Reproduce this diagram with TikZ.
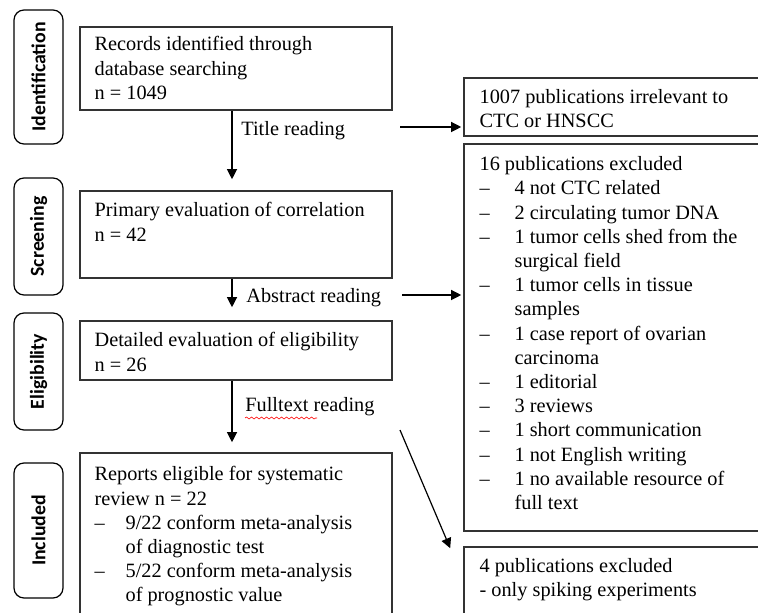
\documentclass[tikz,border=0pt]{standalone}
\usepackage{fontspec}
\setmainfont{Liberation Serif}
\newfontfamily\stagefont{Carlito}
\usetikzlibrary{calc,fit,positioning,arrows.meta,decorations.pathmorphing}

\tikzset{
  box/.style={draw=black!80, line width=0.8pt, inner sep=0pt},
  stage/.style={draw, rounded corners=5pt, line width=0.6pt, inner sep=0pt},
  stagetxt/.style={rotate=90, font=\stagefont\bfseries\fontsize{9.9}{11}\selectfont},
  txt/.style={anchor=north west, align=left, inner sep=0pt, font=\fontsize{10.15}{12.1}\selectfont},
  lbl/.style={anchor=west, inner sep=0pt, font=\fontsize{10.15}{12.1}\selectfont},
  flow/.style={-{Triangle[length=5pt,width=5pt]}, line width=0.6pt},
}
\newcommand{\dsh}{\makebox[17.5pt][l]{--}}
\newcommand{\ind}{\hspace*{17.5pt}}
\newcommand{\dshl}{\makebox[15.5pt][l]{--}}
\newcommand{\indl}{\hspace*{15.5pt}}

\begin{document}
\begin{tikzpicture}[x=0.5pt,y=-0.5pt]
\useasboundingbox (0,0) rectangle (758,613);
\clip (0,0) rectangle (758,613);
% stages
\node[stage, fit={(14,10) (63,144)}] (sid) {};
\node[stagetxt] (sidt) at (sid) {Identification};
\node[stage, fit={(14,178) (63,295)}] (sscr) {};
\node[stagetxt] (sscrt) at (sscr) {Screening};
\node[stage, fit={(14,313) (63,430)}] (seli) {};
\node[stagetxt] (selit) at (seli) {Eligibility};
\node[stage, fit={(14,463) (63,598)}] (sinc) {};
\node[stagetxt] (sinct) at (sinc) {Included};
% main column
\node[box, fit={(80,27) (392,110)}] (b1) {};
\node[txt] (b1t) at ($(b1.north west)+(15,10)$) {Records identified through\\database searching\\n = 1049};
\node[box, fit={(80,191) (392,278)}] (b2) {};
\node[txt] (b2t) at ($(b2.north west)+(15,12)$) {Primary evaluation of correlation\\n = 42};
\node[box, fit={(80,321) (392,380)}] (b3) {};
\node[txt] (b3t) at ($(b3.north west)+(15,12)$) {Detailed evaluation of eligibility\\n = 26};
\node[box, fit={(80,453) (392,660)}] (b4) {};
\node[txt] (b4t) at ($(b4.north west)+(15,14)$) {Reports eligible for systematic\\review n = 22\\
\dshl 9/22 conform meta-analysis\\\indl of diagnostic test\\
\dshl 5/22 conform meta-analysis\\\indl of prognostic value};
% excluded column
\node[box, fit={(464,78) (800,136)}] (r1) {};
\node[txt] (r1t) at ($(r1.north west)+(16,12)$) {1007 publications irrelevant to\\CTC or HNSCC};
\node[box, fit={(464,144) (800,531)}] (r2) {};
\node[txt] (r2t) at ($(r2.north west)+(16,13)$) {16 publications excluded\\
\dsh 4 not CTC related\\
\dsh 2 circulating tumor DNA\\
\dsh 1 tumor cells shed from the\\\ind surgical field\\
\dsh 1 tumor cells in tissue\\\ind samples\\
\dsh 1 case report of ovarian\\\ind carcinoma\\
\dsh 1 editorial\\
\dsh 3 reviews\\
\dsh 1 short communication\\
\dsh 1 not English writing\\
\dsh 1 no available resource of\\\ind full text};
\node[box, fit={(464,547) (800,660)}] (r3) {};
\node[txt] (r3t) at ($(r3.north west)+(16,12)$) {4 publications excluded\\- only spiking experiments};
% flow
\draw[flow, shorten >=5.5pt] ($(b1.south)+(-4,0)$) -- ($(b2.north)+(-4,0)$);
\draw[flow, shorten >=6.5pt] ($(b2.south)+(-4,0)$) -- ($(b3.north)+(-4,0)$);
\draw[flow, shorten >=5pt] ($(b3.south)+(-4,0)$) -- ($(b4.north)+(-4,0)$);
\node[lbl] (ltr) at (241,131) {Title reading};
\node[lbl] (lar) at (246,298) {Abstract reading};
\node[lbl] (lfr) at (245,407) {Fulltext reading};
\draw[red, line width=0.3pt, decorate, decoration={snake, amplitude=0.5pt, segment length=2.5pt}]
  ($(lfr.west)+(0,11)$) -- ($(lfr.west)+(72,11)$);
\coordinate (a1) at (400,127);
\coordinate (a2) at (402,295);
\coordinate (a3) at (400,430);
\draw[flow, shorten >=1pt] (a1) -- (a1 -| r1.west);
\draw[flow, shorten >=1pt] (a2) -- (a2 -| r2.west);
\draw[flow] (a3) -- ($(r3.north west)+(-13,2)$);
\end{tikzpicture}
\end{document}
